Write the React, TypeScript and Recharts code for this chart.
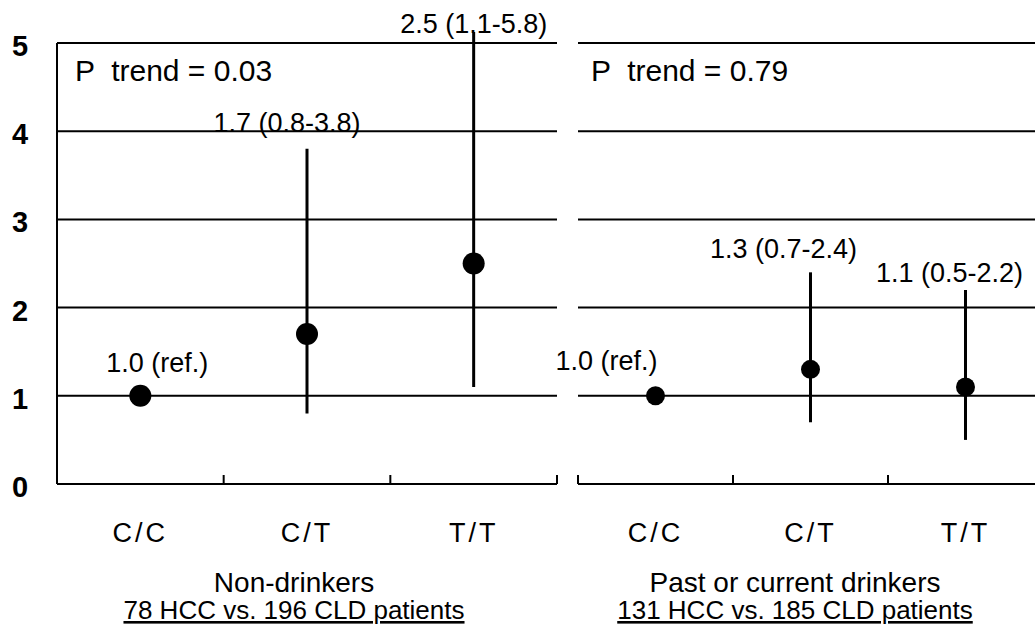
import {
    CartesianGrid,
    ComposedChart,
    ErrorBar,
    LabelList,
    ReferenceLine,
    Scatter,
    XAxis,
    YAxis
} from "recharts";

const genotypes = ["C/C", "C/T", "T/T"];

// odds ratio and 95% CI, non-drinkers
const nonDrinkerOR = [1.0, 1.7, 2.5];
const nonDrinkerLow = [1.0, 0.8, 1.1];
const nonDrinkerHigh = [1.0, 3.8, 5.8];

// odds ratio and 95% CI, past or current drinkers
const drinkerOR = [1.0, 1.3, 1.1];
const drinkerLow = [1.0, 0.7, 0.5];
const drinkerHigh = [1.0, 2.4, 2.2];

const yTicks = [0, 1, 2, 3, 4, 5];
const gridValues = [1, 2, 3, 4, 5];
const xTicks = [0, 0.5, 1, 1.5, 2, 2.5, 3];

// a little headroom above 5 so a long whisker is cut just over the top line
const Y_TOP = 5.125;

const FONT = '"Liberation Sans", Arial, Helvetica, sans-serif';
const PLOT_TOP = 32;
const AXIS_Y = 484;

const buildRows = (or: number[], lo: number[], hi: number[]) =>
    or.map((v, i) => {
        const isRef = lo[i] === v && hi[i] === v;
        return {
            x: i + 0.5,
            genotype: genotypes[i],
            or: v,
            err: [v - lo[i], hi[i] - v],
            labelAt: isRef ? v : Math.min(hi[i], Y_TOP),
            label: isRef
                ? `${v.toFixed(1)} (ref.)`
                : `${v.toFixed(1)} (${lo[i].toFixed(1)}-${hi[i].toFixed(1)})`
        };
    });

const GenotypeTick = ({ x, y, payload }: any) => {
    const v = payload.value as number;
    if (Number.isInteger(v)) {
        return <line x1={x} x2={x} y1={y} y2={y - 9} stroke="#000" strokeWidth={2} />;
    }
    return (
        <text x={x} y={y + 58} textAnchor="middle" fontSize={27} fontFamily={FONT} letterSpacing={3} fill="#000">
            {genotypes[Math.floor(v)]}
        </text>
    );
};

const OddsTick = ({ y, payload }: any) => (
    <text x={20} y={y + 13} textAnchor="middle" fontSize={29} fontWeight="bold" fontFamily={FONT} fill="#000">
        {payload.value}
    </text>
);

const makeValueLabel = (nudges: number[][]) => (props: any) => {
    const { viewBox, value, index } = props;
    const cx = viewBox.x + viewBox.width / 2;
    const cy = viewBox.y + viewBox.height / 2;
    const [dx, dy] = nudges[index] ?? [0, -14];
    return (
        <text x={cx + dx} y={cy + dy} textAnchor="middle" fontSize={27} fontFamily={FONT} fill="#000">
            {value}
        </text>
    );
};

interface PanelProps {
    id: string;
    rows: ReturnType<typeof buildRows>;
    left: number;
    width: number;
    margin: { top: number; right: number; bottom: number; left: number };
    withAxis: boolean;
    dotR: number;
    pTrend: string;
    pTrendX: number;
    nudges: number[][];
    title: string;
    subtitle: string;
    titleX: number;
}

const Panel = ({ id, rows, left, width, margin, withAxis, dotR, pTrend, pTrendX, nudges, title, subtitle, titleX }: PanelProps) => (
    <div style={{ position: "absolute", left, top: 0 }}>
        <ComposedChart width={width} height={627} margin={margin}>
            <defs>
                <clipPath id={`whiskers-${id}`}>
                    <rect x={0} y={PLOT_TOP} width={width} height={AXIS_Y - PLOT_TOP} />
                </clipPath>
            </defs>
            <CartesianGrid
                yAxisId="odds"
                vertical={false}
                horizontalValues={gridValues}
                stroke="#000"
                strokeWidth={2}
            />
            <XAxis
                type="number"
                dataKey="x"
                domain={[0, 3]}
                ticks={xTicks}
                interval={0}
                tickLine={false}
                tickSize={0}
                tickMargin={0}
                tick={<GenotypeTick />}
                axisLine={{ stroke: "#000", strokeWidth: 2 }}
                height={627 - AXIS_Y}
            />
            <YAxis
                yAxisId="odds"
                type="number"
                domain={[0, Y_TOP]}
                allowDataOverflow
                ticks={yTicks}
                interval={0}
                width={withAxis ? 57 : 0}
                hide={!withAxis}
                axisLine={false}
                tickLine={false}
                tick={<OddsTick />}
            />
            <YAxis yAxisId="labels" type="number" domain={[0, Y_TOP]} hide />
            {withAxis && (
                <ReferenceLine
                    yAxisId="odds"
                    segment={[{ x: 0, y: 0 }, { x: 0, y: 5 }]}
                    stroke="#000"
                    strokeWidth={2}
                    ifOverflow="visible"
                />
            )}
            <Scatter
                yAxisId="odds"
                data={rows}
                dataKey="or"
                isAnimationActive={false}
                shape={(p: any) => <circle cx={p.cx} cy={p.cy} r={dotR} fill="#000" />}
            >
                <ErrorBar
                    dataKey="err"
                    direction="y"
                    width={0}
                    stroke="#000"
                    strokeWidth={3}
                    clipPath={`url(#whiskers-${id})`}
                />
            </Scatter>
            <Scatter
                yAxisId="labels"
                data={rows}
                dataKey="labelAt"
                isAnimationActive={false}
                shape={() => <g />}
            >
                <LabelList dataKey="label" content={makeValueLabel(nudges)} />
            </Scatter>
            <text x={pTrendX} y={81} fontSize={30} fontFamily={FONT} fill="#000" style={{ whiteSpace: "pre" }}>
                {pTrend}
            </text>
            <text x={titleX} y={592} textAnchor="middle" fontSize={28} fontFamily={FONT} fill="#000">
                {title}
            </text>
            <text
                x={titleX}
                y={619}
                textAnchor="middle"
                fontSize={26}
                fontFamily={FONT}
                fill="#000"
                textDecoration="underline"
            >
                {subtitle}
            </text>
        </ComposedChart>
    </div>
);

const nonDrinkerRows = buildRows(nonDrinkerOR, nonDrinkerLow, nonDrinkerHigh);
const drinkerRows = buildRows(drinkerOR, drinkerLow, drinkerHigh);

export default function App() {
    return (
        <div
            style={{
                position: "absolute",
                left: 0,
                top: 0,
                width: 1035,
                height: 627,
                overflow: "hidden",
                background: "#fff"
            }}
        >
            <Panel
                id="non"
                rows={nonDrinkerRows}
                left={0}
                width={570}
                margin={{ top: PLOT_TOP, right: 13, bottom: 0, left: 0 }}
                withAxis
                dotR={11}
                pTrend={"P  trend = 0.03"}
                pTrendX={75}
                nudges={[[17, -24], [-20, -17], [0, 1]]}
                title="Non-drinkers"
                subtitle="78 HCC vs. 196 CLD patients"
                titleX={294}
            />
            <Panel
                id="drk"
                rows={drinkerRows}
                left={540}
                width={510}
                margin={{ top: PLOT_TOP, right: 7, bottom: 0, left: 38 }}
                withAxis={false}
                dotR={9.5}
                pTrend={"P  trend = 0.79"}
                pTrendX={51}
                nudges={[[-49, -26], [-27, -14], [-16, -8]]}
                title="Past or current drinkers"
                subtitle="131 HCC vs. 185 CLD patients"
                titleX={255}
            />
        </div>
    );
}
